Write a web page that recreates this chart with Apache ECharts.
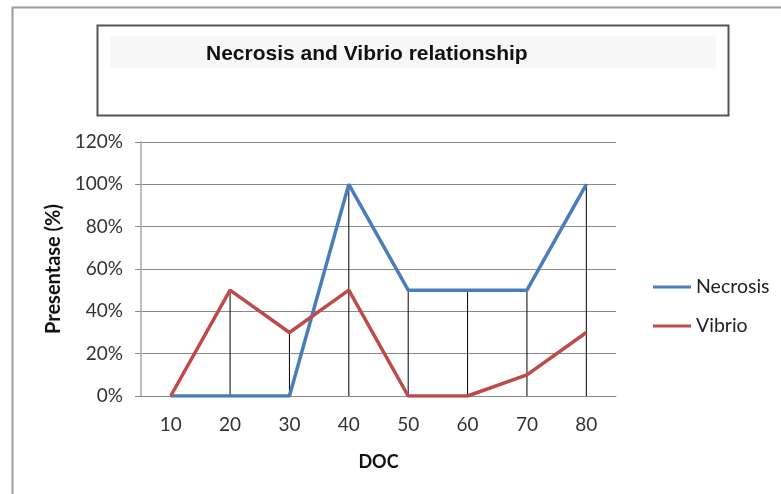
<!DOCTYPE html>
<html>
<head>
<meta charset="utf-8">
<script src="https://cdn.jsdelivr.net/npm/echarts@6/dist/echarts.min.js"></script>
<style>
  html, body { margin: 0; padding: 0; background: #fff; }
  #chart { width: 781px; height: 494px; }
</style>
</head>
<body>
<div id="chart"></div>
<script>
// data
var docDays = ['10', '20', '30', '40', '50', '60', '70', '80'];
var necrosis = [0, 0, 0, 100, 50, 50, 50, 100];
var vibrio = [0, 50, 30, 50, 0, 0, 10, 30];

// drop lines go from the higher point down to the axis
var dropTop = necrosis.map(function (v, i) { return Math.max(v, vibrio[i]); });

var chart = echarts.init(document.getElementById('chart'));

var labelFont = 'Lato, "Open Sans", sans-serif';

var option = {
  animation: false,
  backgroundColor: '#fff',
  title: {
    text: 'Necrosis and Vibrio relationship',
    left: 201,
    top: 39,
    textStyle: {
      fontFamily: '"Liberation Sans", Arial, sans-serif',
      fontWeight: 'bold',
      fontSize: 21,
      color: '#111'
    }
  },
  graphic: [
    {
      // outer chart frame
      type: 'rect',
      shape: { x: 12.5, y: 7.5, width: 800, height: 520 },
      style: { fill: 'none', stroke: '#9a9a9a', lineWidth: 2 },
      silent: true,
      z: -10
    },
    {
      // title box
      type: 'rect',
      shape: { x: 97.5, y: 25.5, width: 631, height: 90 },
      style: { fill: '#fff', stroke: '#555', lineWidth: 2 },
      silent: true,
      z: -9
    },
    {
      type: 'rect',
      shape: { x: 110, y: 36, width: 606, height: 32 },
      style: { fill: '#f7f7f7' },
      silent: true,
      z: -8
    }
  ],
  legend: {
    orient: 'vertical',
    left: 653,
    top: 277,
    padding: 0,
    itemWidth: 38,
    itemHeight: 3,
    itemGap: 19,
    icon: 'rect',
    data: ['Necrosis', 'Vibrio'],
    textStyle: {
      fontFamily: labelFont,
      fontSize: 19.5,
      color: '#222'
    }
  },
  grid: {
    left: 141,
    right: 165,
    top: 142,
    bottom: 98
  },
  xAxis: {
    type: 'category',
    data: docDays,
    boundaryGap: true,
    name: 'DOC',
    nameLocation: 'middle',
    nameGap: 57,
    nameTextStyle: {
      fontFamily: labelFont,
      fontWeight: 'bold',
      fontSize: 18,
      color: '#111'
    },
    axisLine: { show: true, lineStyle: { color: '#8a8a8a', width: 1 } },
    axisTick: { show: false },
    axisLabel: {
      margin: 19,
      fontFamily: labelFont,
      fontSize: 19,
      color: '#333'
    }
  },
  yAxis: {
    type: 'value',
    min: 0,
    max: 120,
    interval: 20,
    name: 'Presentase (%)',
    nameLocation: 'middle',
    nameGap: 77,
    nameTextStyle: {
      fontFamily: labelFont,
      fontWeight: 'bold',
      fontSize: 20,
      color: '#111'
    },
    axisLine: { show: true, lineStyle: { color: '#bdbdbd', width: 2 } },
    axisTick: { show: true, length: 6, lineStyle: { color: '#8a8a8a' } },
    splitLine: { show: true, lineStyle: { color: '#8a8a8a', width: 1 } },
    axisLabel: {
      margin: 18,
      formatter: '{value}%',
      fontFamily: labelFont,
      fontSize: 19,
      color: '#333'
    }
  },
  series: [
    {
      name: 'drop',
      type: 'bar',
      data: dropTop,
      barWidth: 1,
      silent: true,
      itemStyle: { color: '#000' },
      z: 1
    },
    {
      name: 'Necrosis',
      type: 'line',
      data: necrosis,
      showSymbol: false,
      lineStyle: { color: '#4a7ebb', width: 3.5 },
      itemStyle: { color: '#4a7ebb' },
      z: 3
    },
    {
      name: 'Vibrio',
      type: 'line',
      data: vibrio,
      showSymbol: false,
      lineStyle: { color: '#be4b48', width: 3.5 },
      itemStyle: { color: '#be4b48' },
      z: 4
    }
  ]
};

chart.setOption(option);
</script>
</body>
</html>
